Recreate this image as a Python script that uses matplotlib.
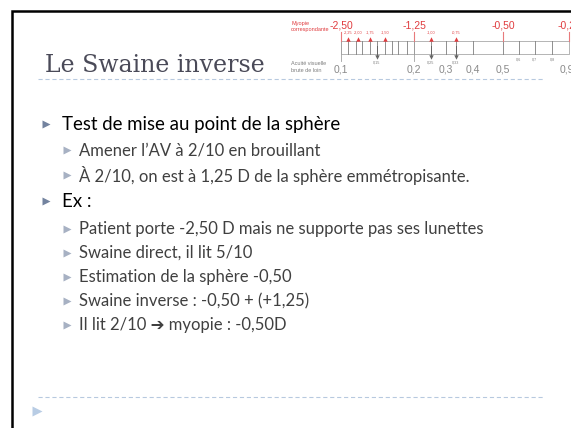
import matplotlib.pyplot as plt
import matplotlib as mpl

mpl.rcParams['lines.scale_dashes'] = False

# --- slide text ---
title = "Le Swaine inverse"
main_items = ["Test de mise au point de la sphère", "Ex :"]
sub_items_1 = ["Amener l’AV à 2/10 en brouillant",
               "À 2/10, on est à 1,25 D de la sphère emmétropisante."]
sub_items_2 = ["Patient porte -2,50 D mais ne supporte pas ses lunettes",
               "Swaine direct, il lit 5/10",
               "Estimation de la sphère -0,50",
               "Swaine inverse : -0,50 + (+1,25)",
               "Il lit 2/10 ➔ myopie : -0,50D"]

# --- Swaine ruler (positions read along the ruler) ---
ruler_div = [341, 348, 356, 362, 370, 377, 385, 392, 398, 407, 414,
             431, 446, 456, 473, 503, 519, 535, 552, 569]
acuity_big = ['0,1', '0,2', '0,3', '0,4', '0,5', '0,9']
acuity_big_pos = [341, 414, 446, 473, 503, 567]
acuity_small = ['0,6', '0,7', '0,8']
acuity_small_pos = [519, 535, 552]
myopia_big = ['-2,50', '-1,25', '-0,50', '-0,25']
myopia_big_pos = [341, 414, 503, 569]
myopia_arrow = ['-2,25', '-2,00', '-1,75', '-1,50', '-1,00', '-0,75']
myopia_arrow_pos = [348, 358, 370, 385, 431, 456]
acuity_arrow = ['0,15', '0,25', '0,33']
acuity_arrow_pos = [377, 431, 456]

red = '#e03c3f'
gray = '#7d7d7d'
dash_col = '#b7c9df'
narrow = ['Liberation Sans Narrow', 'Liberation Sans', 'DejaVu Sans']

fig = plt.figure(figsize=(5.71, 4.28), dpi=100)
ax = fig.add_axes([0, 0, 1, 1])
ax.set_xlim(0, 571)
ax.set_ylim(428, 0)
ax.axis('off')

# slide frame
ax.plot([12, 12, 571], [428, 10.5, 10.5], color='black', lw=1.8,
        solid_capstyle='butt', solid_joinstyle='miter')

# title + dashed separators
ax.text(45, 72, title, family='DejaVu Serif', fontsize=17,
        color='#4a4a58', va='baseline', ha='left')
for yy in (79, 397):
    ax.plot([38, 543], [yy, yy], color=dash_col, lw=0.8, dashes=(3, 2))
ax.plot([37], [411], marker='>', ms=7, color='#b8cce4', mec='none')

# bullets
body = ['Lato', 'DejaVu Sans']
rows = [(main_items[0], 0), (sub_items_1[0], 1), (sub_items_1[1], 1),
        (main_items[1], 0)] + [(s, 1) for s in sub_items_2]
ys = [124, 150, 175, 201, 229, 253, 277, 301, 325]
for (txt, lvl), y in zip(rows, ys):
    if lvl == 0:
        ax.plot([46], [y], marker='>', ms=6, color='#73839f', mec='none')
        ax.text(62, y, txt, family=body, fontsize=13.4, color='black',
                va='center', ha='left')
    else:
        ax.plot([67], [y], marker='>', ms=5.2, color='#a7b1c3', mec='none')
        ax.text(79, y, txt, family=body, fontsize=12, color='#404040',
                va='center', ha='left')

# ruler box
x0, x1 = ruler_div[0], ruler_div[-1]
ax.plot([x0, x1, x1, x0, x0], [41, 41, 54, 54, 41], color='#a8a8a8', lw=0.6)
for xp in ruler_div[1:-1]:
    ax.plot([xp, xp], [41, 54], color=gray, lw=0.6)
for xp in (acuity_big_pos[0], acuity_big_pos[1]):
    ax.plot([xp, xp], [41, 61], color='#a0a0a0', lw=0.6)

ax.text(291, 23, "Myopie", family=narrow, fontsize=4, color=red,
        va='center', ha='left')
ax.text(291, 29, "correspondante", family=narrow, fontsize=4, color=red,
        va='center', ha='left')
ax.text(291, 63, "Acuité visuelle", family=narrow, fontsize=4, color=gray,
        va='center', ha='left')
ax.text(291, 70, "brute de loin", family=narrow, fontsize=4, color=gray,
        va='center', ha='left')

for lab, xp in zip(myopia_big, myopia_big_pos):
    ax.plot([xp, xp], [32, 41], color='#e87a7c', lw=0.8)
    ax.text(xp, 25, lab, family=narrow, fontsize=7.5, color=red,
            va='center', ha='center')
for lab, xp in zip(myopia_arrow, myopia_arrow_pos):
    ax.plot([xp], [39], marker='^', ms=3.2, color=red, mec='none')
    ax.text(xp, 33, lab, family=narrow, fontsize=2.7, color=red,
            va='center', ha='center')
for lab, xp in zip(acuity_arrow, acuity_arrow_pos):
    ax.plot([xp, xp], [46, 56], color='#666666', lw=0.7)
    ax.plot([xp], [57], marker='v', ms=3.2, color='#666666', mec='none')
    ax.text(xp, 63, lab, family=narrow, fontsize=2.7, color=gray,
            va='center', ha='center')
for lab, xp in zip(acuity_big, acuity_big_pos):
    ax.text(xp, 69, lab, family=narrow, fontsize=7.5, color='#8a8a8a',
            va='center', ha='center')
for lab, xp in zip(acuity_small, acuity_small_pos):
    ax.text(xp, 60, lab, family=narrow, fontsize=2.7, color=gray,
            va='center', ha='center')

fig.savefig('out.png', dpi=100, facecolor='white')
